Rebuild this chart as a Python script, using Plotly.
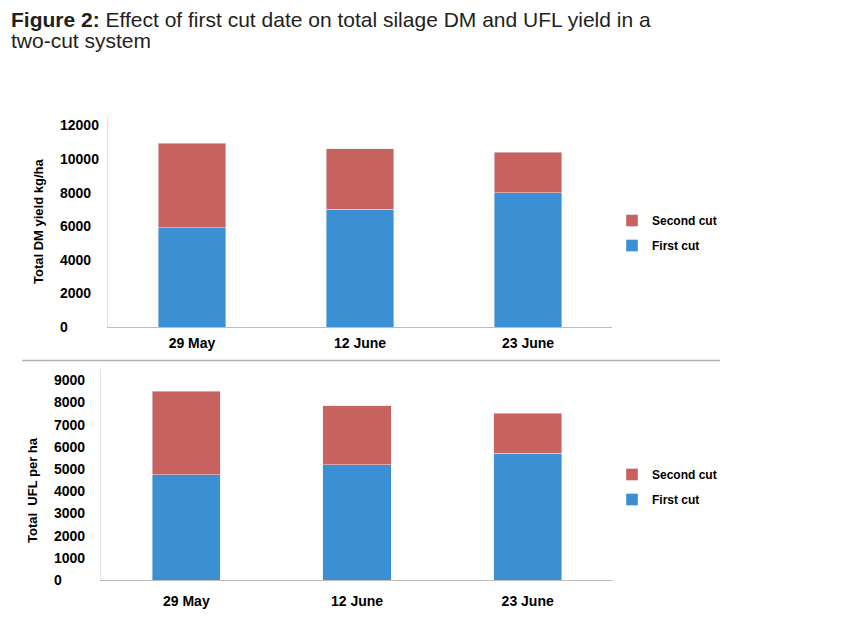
import plotly.graph_objects as go

# first cut dates
dates = ["29 May", "12 June", "23 June"]

# total DM yield, kg/ha
dm_first = [5900, 7000, 8000]
dm_second = [5050, 3600, 2400]

# total UFL per ha
ufl_first = [4750, 5200, 5700]
ufl_second = [3750, 2650, 1800]

dm_ticks = [0, 2000, 4000, 6000, 8000, 10000, 12000]
ufl_ticks = [0, 1000, 2000, 3000, 4000, 5000, 6000, 7000, 8000, 9000]

RED = "#c8625f"
BLUE = "#3b8fd3"
FONT = "Liberation Sans Narrow, Arial Narrow, Liberation Sans, sans-serif"
INK = "#231f20"
W, H = 851, 639
OFF = 8  # page body margin


def px_x(x):
    return (x - OFF) / W


def px_y(y):
    return 1 - (y - OFF) / H


fig = go.Figure()

# top chart: DM yield
fig.add_trace(go.Bar(x=dates, y=dm_first, name="First cut", marker_color=BLUE,
                     width=0.4, xaxis="x", yaxis="y", legend="legend",
                     legendgroup="a_first", legendrank=2))
fig.add_trace(go.Bar(x=dates, y=dm_second, name="Second cut", marker_color=RED,
                     width=0.4, xaxis="x", yaxis="y", legend="legend",
                     legendgroup="a_second", legendrank=1))

# bottom chart: UFL
fig.add_trace(go.Bar(x=dates, y=ufl_first, name="First cut", marker_color=BLUE,
                     width=0.4, xaxis="x2", yaxis="y2", legend="legend2",
                     legendgroup="b_first", legendrank=2))
fig.add_trace(go.Bar(x=dates, y=ufl_second, name="Second cut", marker_color=RED,
                     width=0.4, xaxis="x2", yaxis="y2", legend="legend2",
                     legendgroup="b_second", legendrank=1))

axis_x = dict(showgrid=False, showline=True, linecolor="#bdbdbd", linewidth=1,
              ticks="", tickfont=dict(family=FONT, size=14, color="black", weight="bold"),
              fixedrange=True)
axis_y = dict(showgrid=False, showline=True, linecolor="#e3e3e3", linewidth=1,
              ticks="", showticklabels=False, zeroline=False, fixedrange=True)

legend_style = dict(xanchor="left", yanchor="top", bgcolor="rgba(0,0,0,0)",
                    traceorder="grouped", tracegroupgap=6,
                    font=dict(family=FONT, size=12, color="black", weight="bold"))

fig.update_layout(
    width=W, height=H,
    margin=dict(l=0, r=0, t=0, b=0),
    paper_bgcolor="white", plot_bgcolor="white",
    barmode="stack",
    xaxis=dict(axis_x, domain=[px_x(108), px_x(612)], anchor="y", ticklabelstandoff=3),
    yaxis=dict(axis_y, domain=[px_y(327), px_y(117)], range=[0, 12500], anchor="x"),
    xaxis2=dict(axis_x, domain=[px_x(101), px_x(613)], anchor="y2", ticklabelstandoff=8),
    yaxis2=dict(axis_y, domain=[px_y(580), px_y(369)], range=[0, 9500], anchor="x2"),
    legend=dict(legend_style, x=px_x(612), y=px_y(206)),
    legend2=dict(legend_style, x=px_x(612), y=px_y(460)),
    shapes=[dict(type="line", xref="paper", yref="paper",
                 x0=px_x(22), x1=px_x(720), y0=px_y(360.5), y1=px_y(360.5),
                 line=dict(color="#b5afad", width=1.5))],
)

notes = []
# title, two lines set tight
title_lines = ["<b>Figure 2:</b> Effect of first cut date on total silage DM and UFL yield in a",
               "two-cut system"]
for i, line in enumerate(title_lines):
    notes.append(dict(
        text=line, xref="paper", yref="paper", x=px_x(9), y=px_y(19 + 22 * i),
        xanchor="left", yanchor="middle", align="left", showarrow=False,
        font=dict(family=FONT, size=21, color=INK)))

# y tick labels, left aligned
for v in dm_ticks:
    notes.append(dict(text=str(v), xref="paper", yref="y", x=px_x(58), y=v,
                      xanchor="left", yanchor="middle", showarrow=False,
                      font=dict(family=FONT, size=14, color="black", weight="bold")))
for v in ufl_ticks:
    notes.append(dict(text=str(v), xref="paper", yref="y2", x=px_x(52), y=v,
                      xanchor="left", yanchor="middle", showarrow=False,
                      font=dict(family=FONT, size=14, color="black", weight="bold")))

# y axis titles
notes.append(dict(text="Total DM yield kg/ha", xref="paper", yref="paper",
                  x=px_x(39), y=px_y(222), textangle=-90, showarrow=False,
                  xanchor="center", yanchor="middle",
                  font=dict(family=FONT, size=13, color="black", weight="bold")))
notes.append(dict(text="Total  UFL per ha", xref="paper", yref="paper",
                  x=px_x(32), y=px_y(490), textangle=-90, showarrow=False,
                  xanchor="center", yanchor="middle",
                  font=dict(family=FONT, size=13, color="black", weight="bold")))

fig.update_layout(annotations=notes)

fig.write_html("out.html")
